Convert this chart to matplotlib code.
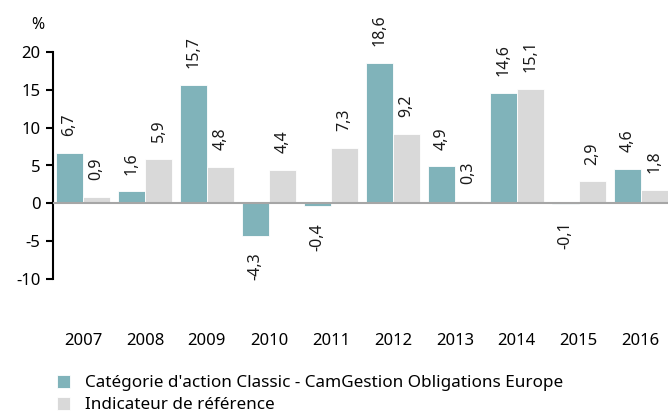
import numpy as np
import matplotlib.pyplot as plt

plt.rcParams['font.family'] = ['Noto Sans', 'DejaVu Sans']

years = ['2007', '2008', '2009', '2010', '2011', '2012', '2013', '2014', '2015', '2016']
fund = [6.7, 1.6, 15.7, -4.3, -0.4, 18.6, 4.9, 14.6, -0.1, 4.6]
bench = [0.9, 5.9, 4.8, 4.4, 7.3, 9.2, 0.3, 15.1, 2.9, 1.8]
fund_name = "Catégorie d'action Classic - CamGestion Obligations Europe"
bench_name = "Indicateur de référence"

teal = '#80b3ba'
grey = '#d9d9d9'

fig = plt.figure(figsize=(6.68, 4.15), dpi=100)
ax = fig.add_axes([53/668, 1-279/415, 615/668, 227/415])

x = np.arange(len(years))
w = 0.435
b1 = ax.bar(x - w/2, fund, width=w, color=teal, edgecolor='white', linewidth=0.6, zorder=2)
b2 = ax.bar(x + w/2, bench, width=w, color=grey, edgecolor='white', linewidth=0.6, zorder=2)

# value labels, rotated, french decimal comma
for bars, vals in [(b1, fund), (b2, bench)]:
    for r, v in zip(bars, vals):
        txt = f"{v:.1f}".replace('.', ',')
        cx = r.get_x() + r.get_width()/2
        if v >= 0:
            ax.annotate(txt, (cx, v), xytext=(0, 12), textcoords='offset points',
                        rotation=90, ha='center', va='bottom', fontsize=11.5, color='#1a1a1a',
                        annotation_clip=False)
        else:
            ax.annotate(txt, (cx, v), xytext=(0, -12), textcoords='offset points',
                        rotation=90, ha='center', va='top', fontsize=11.5, color='#1a1a1a',
                        annotation_clip=False)

ax.axhline(0, color='#a6a6a6', linewidth=1.5, zorder=3)

ax.set_ylim(-10, 20)
ax.set_xlim(-0.484, 9.44)
ax.set_yticks([-10, -5, 0, 5, 10, 15, 20])
ax.set_yticklabels(['-10', '-5', '0', '5', '10', '15', '20'], fontsize=12)
ax.tick_params(axis='y', length=5, width=1.5, pad=4, color='black')

ax.set_xticks(x)
ax.set_xticklabels(years, fontsize=12)
ax.tick_params(axis='x', length=0, pad=39)

for s in ['top', 'right', 'bottom']:
    ax.spines[s].set_visible(False)
ax.spines['left'].set_linewidth(1.5)

fig.text(38/668, 1-25/415, '%', fontsize=11.5, fontweight='bold', ha='center', va='center')

ax.legend([b1, b2], [fund_name, bench_name], loc='upper left',
          bbox_to_anchor=(57/668, 1-375/415), bbox_transform=fig.transFigure,
          frameon=False, fontsize=12.3, handlelength=0.75, handleheight=0.75,
          handletextpad=0.9, labelspacing=0.35, borderaxespad=0, borderpad=0)

fig.savefig('out.png', dpi=100)
